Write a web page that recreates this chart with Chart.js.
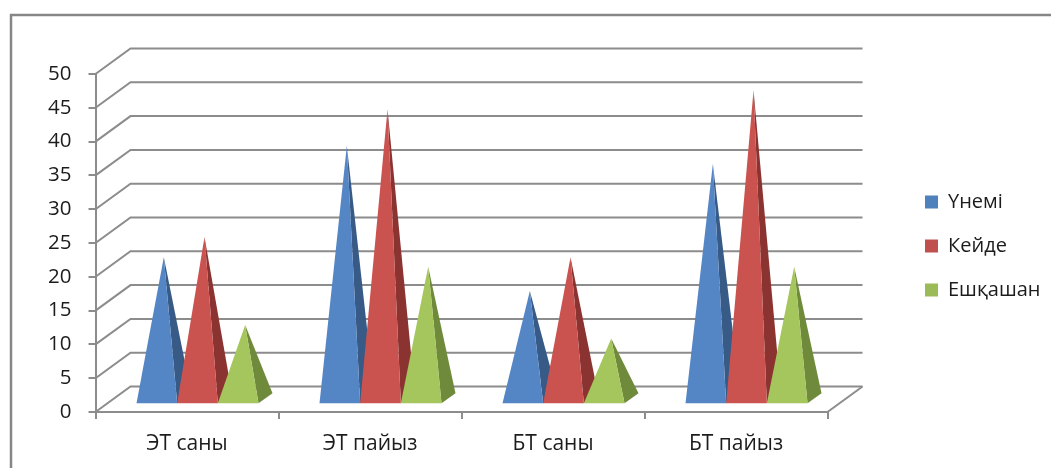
<!DOCTYPE html>
<html>
<head>
<meta charset="utf-8">
<script src="https://cdn.jsdelivr.net/npm/chart.js@4"></script>
<style>
html, body { margin: 0; padding: 0; background: #fff; }
canvas { display: block; }
</style>
</head>
<body>
<canvas id="grafik" width="1051" height="468"></canvas>
<script>
var categories = ['ЭТ саны', 'ЭТ пайыз', 'БТ саны', 'БТ пайыз'];
var seriesNames = ['Үнемі', 'Кейде', 'Ешқашан'];
var unemi = [21, 37.5, 16, 34.8];
var keide = [24, 42.9, 21, 45.7];
var eshqashan = [11, 19.6, 9, 19.6];
var yTicks = [0, 5, 10, 15, 20, 25, 30, 35, 40, 45, 50];

var legendColors = ['#4F81BD', '#C0504D', '#9BBB59'];
var frontColors = ['#5485C4', '#CA5350', '#A5C65C'];
var sideColors = ['#375A86', '#8A3331', '#6F8A3B'];

var gridColor = '#8C8C8C';
var textColor = '#1c1c1c';
var fontName = '"Open Sans", sans-serif';
var depthX = 35, depthY = 25.5;

var pyramids = {
    id: 'pyramids',
    beforeDraw: function(chart){
        var ctx = chart.ctx;
        ctx.save();
        ctx.fillStyle = '#fff';
        ctx.fillRect(0, 0, chart.width, chart.height);
        // frame, only top and left are visible in the picture
        ctx.strokeStyle = '#868686';
        ctx.lineWidth = 2.5;
        ctx.beginPath();
        ctx.moveTo(11, chart.height);
        ctx.lineTo(11, 15);
        ctx.lineTo(chart.width, 15);
        ctx.stroke();
        ctx.restore();
    },
    afterLayout: function(chart){
        // keep the legend where the reference has it, far from the plot
        var legend = chart.legend;
        legend.left = 901;
        legend.right = chart.width;
        legend.top -= 25;
        legend.bottom -= 25;
    },
    beforeDatasetsDraw: function(chart){
        var ctx = chart.ctx, xs = chart.scales.x, ys = chart.scales.y;
        ctx.save();
        // back wall lines
        ctx.strokeStyle = gridColor;
        ctx.lineWidth = 2;
        yTicks.forEach(function(v){
            var py = ys.getPixelForValue(v);
            ctx.beginPath();
            ctx.moveTo(xs.left, py);
            ctx.lineTo(xs.left + depthX, py - depthY);
            ctx.lineTo(xs.right + depthX, py - depthY);
            ctx.stroke();
        });
        // floor right edge
        var y0 = ys.getPixelForValue(0);
        ctx.beginPath();
        ctx.moveTo(xs.right, y0);
        ctx.lineTo(xs.right + depthX, y0 - depthY);
        ctx.stroke();

        // pyramids, first series at the back of the paint order
        var frontGap = 0.3, baseDepth = 0.4;
        chart.data.datasets.forEach(function(ds, i){
            chart.getDatasetMeta(i).data.forEach(function(bar){
                var left = bar.x - bar.width / 2 + depthX * frontGap;
                var right = left + bar.width;
                var baseY = bar.base - depthY * frontGap;
                var backX = depthX * baseDepth, backY = depthY * baseDepth;
                var apexX = bar.x + depthX / 2;
                var apexY = bar.y - depthY / 2;

                ctx.fillStyle = sideColors[i];
                ctx.beginPath();
                ctx.moveTo(right, baseY);
                ctx.lineTo(right + backX, baseY - backY);
                ctx.lineTo(apexX, apexY);
                ctx.closePath();
                ctx.fill();

                ctx.fillStyle = frontColors[i];
                ctx.beginPath();
                ctx.moveTo(left, baseY);
                ctx.lineTo(right, baseY);
                ctx.lineTo(apexX, apexY);
                ctx.closePath();
                ctx.fill();
            });
        });
        ctx.restore();
        return false;
    }
};

var ctx = document.getElementById('grafik').getContext('2d');
var grafik = new Chart(ctx, {
    type: 'bar',
    data: {
        labels: categories,
        datasets: [
            { label: seriesNames[0], data: unemi, backgroundColor: legendColors[0] },
            { label: seriesNames[1], data: keide, backgroundColor: legendColors[1] },
            { label: seriesNames[2], data: eshqashan, backgroundColor: legendColors[2] }
        ]
    },
    options: {
        responsive: false,
        animation: false,
        devicePixelRatio: 1,
        layout: { padding: { top: 74, right: 74, bottom: 0, left: 0 } },
        datasets: { bar: { categoryPercentage: 2 / 3, barPercentage: 1 } },
        scales: {
            x: {
                afterFit: function(s){ s.height = 56; },
                grid: { drawOnChartArea: false, color: gridColor, lineWidth: 2, tickLength: 7 },
                border: { color: gridColor, width: 2 },
                ticks: { color: textColor, font: { family: fontName, size: 21 }, padding: 12, maxRotation: 0 }
            },
            y: {
                min: 0,
                max: 50,
                afterFit: function(s){ s.width = 95.5; },
                grid: { drawOnChartArea: false, color: gridColor, lineWidth: 2, tickLength: 7 },
                border: { color: gridColor, width: 2 },
                ticks: { stepSize: 5, color: textColor, font: { family: fontName, size: 20.5 }, padding: 17 }
            }
        },
        plugins: {
            legend: {
                position: 'right',
                labels: {
                    color: textColor,
                    font: { family: fontName, size: 20 },
                    boxWidth: 13,
                    boxHeight: 13,
                    padding: 24,
                    textAlign: 'left'
                }
            },
            tooltip: { enabled: false }
        }
    },
    plugins: [pyramids]
});
</script>
</body>
</html>
